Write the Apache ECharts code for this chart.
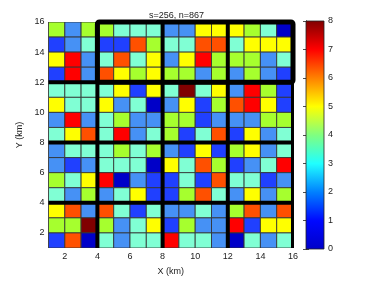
<!DOCTYPE html>
<html><head><meta charset="utf-8">
<script src="https://cdn.jsdelivr.net/npm/echarts@6/dist/echarts.min.js"></script>
<style>html,body{margin:0;padding:0;background:#fff}#c{width:374px;height:281px}</style>
</head><body><div id="c"></div>
<script>
// ---- data (cell values, rows listed from top y=15..16 down to y=1..2; columns x=1..15) ----
const rowY15 = [4,2,4, 4,3,3,3, 2,2,5,5, 5,4,3,0];
const rowY14 = [1,2,3, 1,1,6,4, 3,3,6,6, 3,5,5,5];
const rowY13 = [5,7,2, 3,6,3,5, 2,5,7,4, 4,4,2,3];
const rowY12 = [1,7,2, 6,5,4,5, 4,4,2,4, 2,4,2,1];
const rowY11 = [3,3,3, 3,5,1,5, 3,8,3,5, 2,7,4,1];
const rowY10 = [5,3,3, 5,2,3,0, 2,5,1,4, 6,7,5,1];
const rowY9  = [2,7,2, 3,4,2,2, 4,4,1,2, 2,2,4,4];
const rowY8  = [3,5,6, 3,7,2,3, 4,1,3,6, 1,5,2,3];
const rowY7  = [2,3,3, 3,4,3,4, 2,1,5,1, 4,5,2,3];
const rowY6  = [2,1,2, 3,3,3,0, 5,3,6,4, 1,2,3,7];
const rowY5  = [4,3,5, 7,0,2,1, 1,3,1,6, 3,3,1,2];
const rowY4  = [3,2,4, 2,3,5,1, 1,4,6,3, 2,5,2,4];
const rowY3  = [5,6,2, 6,3,1,3, 2,2,3,2, 4,6,2,6];
const rowY2  = [4,4,8, 4,2,3,5, 1,4,2,2, 7,1,5,5];
const rowY1  = [1,6,0, 3,2,3,3, 7,3,3,2, 0,3,2,3];
const rows = [rowY15,rowY14,rowY13,rowY12,rowY11,rowY10,rowY9,rowY8,rowY7,rowY6,rowY5,rowY4,rowY3,rowY2,rowY1];
const rowBottoms = [15,14,13,12,11,10,9,8,7,6,5,4,3,2,1];
const colLefts = [1,2,3,4,5,6,7,8,9,10,11,12,13,14,15];
const blockEdgesX = [4,8,12,16];
const blockEdgesY = [4,8,12];
const highlightBox = [4,12,16,16]; // x0,y0,x1,y1
const axisTicks = [2,4,6,8,10,12,14,16];
const colorbarTicks = [0,1,2,3,4,5,6,7,8];
const titleText = 's=256, n=867';

// ---- styles ----
const palette = ['#0000c8','#2040ff','#4691f5','#80ffd4','#a6ff2e','#ffff00','#ff5000','#ff0000','#800000'];
const FONT = "'Liberation Sans', Arial, sans-serif";

const cells = [];
rows.forEach((r, i) => r.forEach((v, j) => cells.push([colLefts[j], rowBottoms[i], v])));
const segs = [];
blockEdgesX.forEach(x => segs.push([x,1,x,16]));
blockEdgesY.forEach(y => segs.push([1,y,16,y]));

const chart = echarts.init(document.getElementById('c'), null, {renderer:'canvas'});
const tickFmt = v => axisTicks.includes(v) ? String(v) : '';
chart.setOption({
  animation:false,
  title:{text:titleText, left:144, top:6, textStyle:{fontFamily:FONT,fontSize:9,fontWeight:'normal',color:'#222'}},
  grid:[
    {left:48.5, top:22, width:244.5, height:227},
    {left:306, top:21, width:18, height:228}
  ],
  xAxis:[
    {type:'value', gridIndex:0, min:1, max:16, interval:1, name:'X (km)', nameLocation:'middle', nameGap:19,
     nameTextStyle:{fontFamily:FONT,fontSize:9,color:'#222'},
     axisLine:{show:false}, axisTick:{show:false}, splitLine:{show:false},
     axisLabel:{formatter:tickFmt, fontFamily:FONT, fontSize:9, color:'#222', margin:4}},
    {type:'value', gridIndex:1, min:0, max:1, show:false}
  ],
  yAxis:[
    {type:'value', gridIndex:0, min:1, max:16, interval:1, name:'Y (km)', nameLocation:'middle', nameGap:24,
     nameTextStyle:{fontFamily:FONT,fontSize:9,color:'#222'},
     axisLine:{show:false}, axisTick:{show:false}, splitLine:{show:false},
     axisLabel:{formatter:tickFmt, fontFamily:FONT, fontSize:9, color:'#222', margin:4}},
    {type:'value', gridIndex:1, min:0, max:8, interval:1, position:'right',
     axisLine:{show:true, lineStyle:{color:'#222', width:0.8}},
     axisTick:{show:true, inside:true, length:3, lineStyle:{color:'#222', width:0.8}},
     splitLine:{show:false},
     axisLabel:{fontFamily:FONT, fontSize:9, color:'#222', margin:4,
       formatter: v => colorbarTicks.includes(v) ? String(v) : ''}},
    {type:'value', gridIndex:1, min:0, max:8, interval:1, position:'left',
     axisLine:{show:true, lineStyle:{color:'#222', width:0.8}},
     axisTick:{show:true, inside:true, length:3, lineStyle:{color:'#222', width:0.8}},
     splitLine:{show:false}, axisLabel:{show:false}}
  ],
  series:[
    {type:'custom', xAxisIndex:0, yAxisIndex:0, data:cells, clip:true,
     renderItem:(params, api) => {
       const x = api.value(0), y = api.value(1), v = api.value(2);
       const a = api.coord([x, y+1]), b = api.coord([x+1, y]);
       return {type:'rect', shape:{x:a[0], y:a[1], width:b[0]-a[0], height:b[1]-a[1]},
               style:{fill:palette[v], stroke:'rgba(50,50,50,0.85)', lineWidth:1}};
     }},
    {type:'custom', xAxisIndex:0, yAxisIndex:0, data:segs, clip:true,
     renderItem:(params, api) => {
       const a = api.coord([api.value(0), api.value(1)]), b = api.coord([api.value(2), api.value(3)]);
       return {type:'line', shape:{x1:a[0], y1:a[1], x2:b[0], y2:b[1]}, style:{stroke:'#000', lineWidth:4}};
     }},
    {type:'custom', xAxisIndex:0, yAxisIndex:0, data:[highlightBox], clip:false,
     renderItem:(params, api) => {
       const a = api.coord([api.value(0), api.value(3)]), b = api.coord([api.value(2), api.value(1)]);
       return {type:'rect', shape:{x:a[0], y:a[1], width:b[0]-a[0], height:b[1]-a[1], r:2},
               style:{fill:null, stroke:'#000', lineWidth:5, lineJoin:'round'}};
     }},
    {type:'custom', xAxisIndex:1, yAxisIndex:1, data:[[0, colorbarTicks[0], 1, colorbarTicks[colorbarTicks.length-1]]], clip:false,
     renderItem:(params, api) => {
       const a = api.coord([api.value(0), api.value(3)]), b = api.coord([api.value(2), api.value(1)]);
       const grad = new echarts.graphic.LinearGradient(0,1,0,0,[
         {offset:0, color:'#0000c8'},{offset:0.125, color:'#0008ff'},{offset:0.25, color:'#0080ff'},
         {offset:0.375, color:'#20ffff'},{offset:0.5, color:'#80ff80'},{offset:0.625, color:'#ffff00'},
         {offset:0.75, color:'#ff8000'},{offset:0.875, color:'#ff0000'},{offset:1, color:'#800000'}]);
       return {type:'rect', shape:{x:a[0], y:a[1], width:b[0]-a[0], height:b[1]-a[1]},
               style:{fill:grad, stroke:'#222', lineWidth:0.8}, z2:-1};
     }}
  ]
});
</script></body></html>
